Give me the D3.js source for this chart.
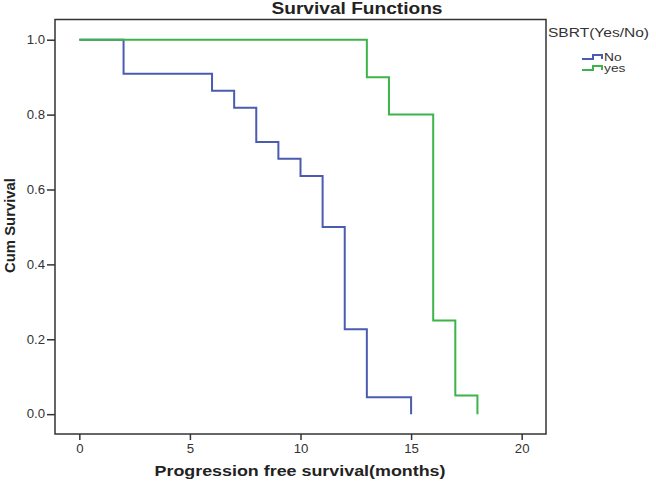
<!DOCTYPE html>
<html>
<head>
<meta charset="utf-8">
<script src="https://cdn.jsdelivr.net/npm/d3@7"></script>
<style>
  body { margin: 0; background: #fff; }
  text { font-family: "Liberation Sans", Arial, sans-serif; fill: #222; }
</style>
</head>
<body>
<svg width="656" height="481"></svg>
<script>
// Kaplan-Meier steps
var noTimes = [0, 2, 6, 7, 8, 9, 10, 11, 12, 13, 15];
var noSurv = [1.0, 0.909, 0.864, 0.818, 0.727, 0.682, 0.636, 0.5, 0.227, 0.045, 0.0];
var yesTimes = [0, 13, 14, 16, 17, 18];
var yesSurv = [1.0, 0.9, 0.8, 0.25, 0.05, 0.0];

var groups = ["No", "yes"];
var colors = ["#4a5cb0", "#3cb44a"];
var xTicks = [0, 5, 10, 15, 20];
var yTicks = [0.0, 0.2, 0.4, 0.6, 0.8, 1.0];

var svg = d3.select("svg");
// note: "top" is taken by window.top, so plot edges get a prefix
var plotL = 55, plotR = 546, plotT = 19.5, plotB = 434;

var x = d3.scaleLinear().domain([-1.1, 21.1]).range([plotL, plotR]);
var y = d3.scaleLinear().domain([-0.053, 1.054]).range([plotB, plotT]);

// the source picture is a bit wider than tall, so text gets stretched sideways
var stretch = function(sel, k) {
    sel.each(function() {
        let w = this.getComputedTextLength();
        d3.select(this).attr("textLength", w * k).attr("lengthAdjust", "spacingAndGlyphs");
    });
}

// km step: horizontal then drop
var stepPoints = function(times, surv) {
    let pts = [[times[0], surv[0]]];
    for (let i = 1; i < times.length; i++) {
        pts.push([times[i], surv[i - 1]]);
        pts.push([times[i], surv[i]]);
    }
    return pts;
}

var line = d3.line()
    .x(function(d) { return x(d[0]); })
    .y(function(d) { return y(d[1]); });

var styleAxis = function(g) {
    g.select(".domain").remove();
    g.selectAll("line").attr("stroke", "#333").attr("stroke-width", 1.5);
    g.selectAll("text")
        .style("font-size", "12px")
        .style("font-family", "Liberation Sans, Arial")
        .style("fill", "#333")
        .call(stretch, 1.1);
}

// axes
svg.append("g")
    .attr("transform", "translate(0," + plotB + ")")
    .call(d3.axisBottom(x).tickValues(xTicks).tickSize(6).tickPadding(4).tickFormat(d3.format("d")))
    .call(styleAxis);

svg.append("g")
    .attr("transform", "translate(" + plotL + ",0)")
    .call(d3.axisLeft(y).tickValues(yTicks).tickSize(8).tickPadding(2).tickFormat(d3.format(".1f")))
    .call(styleAxis);

// curves
var series = [stepPoints(noTimes, noSurv), stepPoints(yesTimes, yesSurv)];
svg.selectAll("path.km")
    .data(series)
    .enter()
    .append("path")
    .attr("class", "km")
    .attr("d", line)
    .attr("fill", "none")
    .attr("stroke", function(d, i) { return colors[i]; })
    .attr("stroke-width", 2);

// frame
svg.append("rect")
    .attr("x", plotL).attr("y", plotT)
    .attr("width", plotR - plotL).attr("height", plotB - plotT)
    .attr("fill", "none")
    .attr("stroke", "#333")
    .attr("stroke-width", 1.5);

// titles
svg.append("text")
    .attr("x", 357).attr("y", 14)
    .attr("text-anchor", "middle")
    .attr("textLength", 171).attr("lengthAdjust", "spacingAndGlyphs")
    .style("font-size", "16px").style("font-weight", "bold")
    .text("Survival Functions");

svg.append("text")
    .attr("x", 300).attr("y", 476)
    .attr("text-anchor", "middle")
    .attr("textLength", 291).attr("lengthAdjust", "spacingAndGlyphs")
    .style("font-size", "14px").style("font-weight", "bold")
    .text("Progression free survival(months)");

svg.append("text")
    .attr("transform", "translate(15,225.5) rotate(-90)")
    .attr("text-anchor", "middle")
    .attr("textLength", 95).attr("lengthAdjust", "spacingAndGlyphs")
    .style("font-size", "15px").style("font-weight", "bold")
    .text("Cum Survival");

// legend
svg.append("text")
    .attr("x", 548).attr("y", 37)
    .attr("textLength", 101).attr("lengthAdjust", "spacingAndGlyphs")
    .style("font-size", "12px")
    .style("fill", "#333")
    .text("SBRT(Yes/No)");

var leg = svg.selectAll("g.leg")
    .data(groups)
    .enter()
    .append("g")
    .attr("class", "leg")
    .attr("transform", function(d, i) { return "translate(582," + (59 + i * 11) + ")"; });

leg.append("path")
    .attr("d", "M0,0 H11 V-4 H20 V0")
    .attr("fill", "none")
    .attr("stroke", function(d, i) { return colors[i]; })
    .attr("stroke-width", 2);

leg.append("text")
    .attr("x", 22).attr("y", 2)
    .style("font-size", "11px")
    .style("fill", "#333")
    .text(function(d) { return d; })
    .call(stretch, 1.25);
</script>
</body>
</html>
